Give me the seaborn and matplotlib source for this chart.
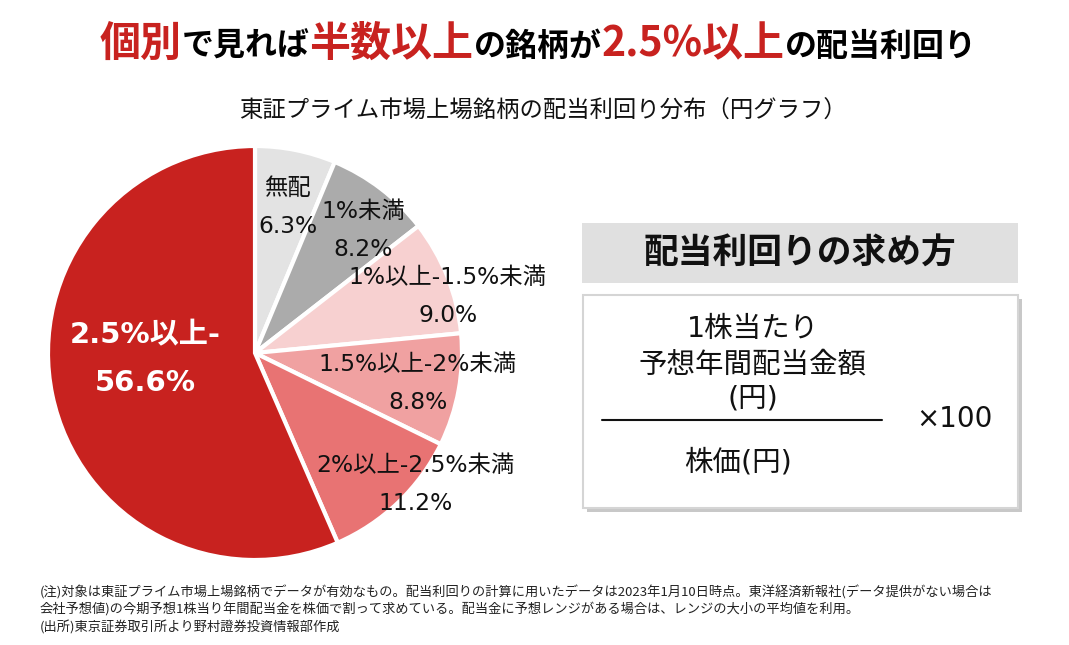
import matplotlib
matplotlib.use("Agg")
import matplotlib.pyplot as plt
import seaborn as sns
import numpy as np
from matplotlib.patches import Rectangle

# ---------------- data ----------------
categories = ["無配", "1%未満", "1%以上-1.5%未満", "1.5%以上-2%未満", "2%以上-2.5%未満", "2.5%以上-"]
shares = [6.3, 8.2, 9.0, 8.8, 11.2, 56.6]
share_labels = ["6.3%", "8.2%", "9.0%", "8.8%", "11.2%", "56.6%"]
slice_colors = ["#E3E3E3", "#ABABAB", "#F7D0D0", "#F0A1A1", "#E87373", "#C8221F"]

title_parts = ["個別", "で見れば", "半数以上", "の銘柄が", "2.5%以上", "の配当利回り"]
title_red = [True, False, True, False, True, False]
subtitle = "東証プライム市場上場銘柄の配当利回り分布（円グラフ）"
box_title = "配当利回りの求め方"
numerator_lines = ["1株当たり", "予想年間配当金額", "(円)"]
denominator = "株価(円)"
multiplier = "×100"
notes = [
    "(注)対象は東証プライム市場上場銘柄でデータが有効なもの。配当利回りの計算に用いたデータは2023年1月10日時点。東洋経済新報社(データ提供がない場合は",
    "会社予想値)の今期予想1株当り年間配当金を株価で割って求めている。配当金に予想レンジがある場合は、レンジの大小の平均値を利用。",
    "(出所)東京証券取引所より野村證券投資情報部作成",
]

# ---------------- style ----------------
sns.set_theme(style="white")
CJK = ['Noto Sans CJK JP', 'DejaVu Sans']
LAT = ['DejaVu Sans', 'Noto Sans CJK JP']
plt.rcParams['font.family'] = CJK
RED = "#C8221F"
W, H = 1069, 645
fig = plt.figure(figsize=(W / 100, H / 100), dpi=100)
fig.patch.set_facecolor("white")

# ---------------- pie ----------------
cx, cy, R = 255, 353, 207
pax = fig.add_axes([(cx - R) / W, (H - cy - R) / H, 2 * R / W, 2 * R / H])
wedges, _ = pax.pie(shares, colors=slice_colors, startangle=90, counterclock=False,
                    wedgeprops=dict(edgecolor="white", linewidth=3))
pax.set_xlim(-1, 1)
pax.set_ylim(-1, 1)
pax.axis("off")

ov = fig.add_axes([0, 0, 1, 1])
ov.set_xlim(0, W)
ov.set_ylim(H, 0)
ov.axis("off")
ov.set_zorder(5)

label_r = [0.72, 0.79, 0.97, 0.80, 1.0, 0.53]
label_dang = [-1.4, -4.0, -5.4, -0.1, 7.0, -8.5]
for i, w in enumerate(wedges):
    mid = np.deg2rad((w.theta1 + w.theta2) / 2 + label_dang[i])
    x = cx + label_r[i] * R * np.cos(mid)
    y = cy - label_r[i] * R * np.sin(mid)
    if i == len(wedges) - 1:
        ov.text(x, y - 24, categories[i], ha="center", va="center", fontsize=21,
                fontweight="bold", color="white", family=LAT)
        ov.text(x, y + 24, share_labels[i], ha="center", va="center", fontsize=21,
                fontweight="bold", color="white", family=LAT)
    else:
        ov.text(x, y - 19, categories[i], ha="center", va="center", fontsize=16.8,
                color="#111111", family=LAT)
        ov.text(x, y + 19, share_labels[i], ha="center", va="center", fontsize=16.8,
                color="#111111", family=LAT)

# ---------------- title ----------------
fig.canvas.draw()
renderer = fig.canvas.get_renderer()
texts = []
widths = []
for part, red in zip(title_parts, title_red):
    t = ov.text(0, 56, part, ha="left", va="baseline", fontsize=29.5 if red else 23,
                fontweight="bold", color=RED if red else "#000000")
    bb = t.get_window_extent(renderer)
    texts.append(t)
    widths.append(bb.width)
total = sum(widths)
x0 = 538 - total / 2
for t, wdt in zip(texts, widths):
    t.set_x(x0)
    x0 += wdt

ov.text(543, 111, subtitle, ha="center", va="center", fontsize=16.8, color="#111111")

# ---------------- formula box ----------------
ov.add_patch(Rectangle((582, 223), 436, 60, facecolor="#E0E0E0", edgecolor="none"))
ov.text(800, 253, box_title, ha="center", va="center", fontsize=25, fontweight="bold", color="#111111")
ov.add_patch(Rectangle((587, 299), 435, 213, facecolor="#C8C8C8", edgecolor="none"))
ov.add_patch(Rectangle((583, 295), 435, 213, facecolor="white", edgecolor="#D5D5D5", linewidth=1.5))
for k, line in enumerate(numerator_lines):
    ov.text(753, 329 + k * 35, line, ha="center", va="center", fontsize=20.5, color="#111111",
            family=LAT)
ov.plot([602, 882], [420, 420], color="#111111", linewidth=1.5)
ov.text(738, 463, denominator, ha="center", va="center", fontsize=20.5, color="#111111", family=LAT)
ov.text(954, 419, multiplier, ha="center", va="center", fontsize=20, color="#111111", family=LAT)

# ---------------- notes ----------------
for k, line in enumerate(notes):
    ov.text(40, 592 + k * 18, line, ha="left", va="center", fontsize=9.5, color="#222222")

fig.savefig("out.png", dpi=100, facecolor="white")
